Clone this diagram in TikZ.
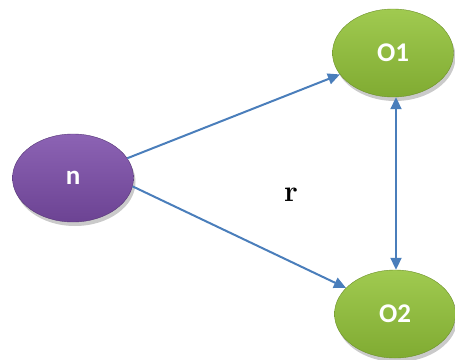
\documentclass[tikz,border=0pt]{standalone}
\usepackage{fontspec}
\setsansfont{Carlito}
\usetikzlibrary{arrows.meta,shadows,shapes.geometric}
\definecolor{linkblue}{HTML}{4A7EBB}
\definecolor{purpletop}{HTML}{8C63B4}
\definecolor{purplebot}{HTML}{6C4393}
\definecolor{greentop}{HTML}{A0CA50}
\definecolor{greenbot}{HTML}{80AB32}
\tikzset{
  x=1pt, y=-1pt,
  blob/.style={ellipse, minimum width=121pt, minimum height=88pt, inner sep=0pt,
    font=\sffamily\bfseries\fontsize{27}{27}\selectfont, text=white,
    drop shadow={shadow xshift=2pt, shadow yshift=-4pt, opacity=0.35, fill=black!60}},
  purpleblob/.style={blob, top color=purpletop, bottom color=purplebot, draw=purplebot!80!black, line width=0.4pt},
  greenblob/.style={blob, top color=greentop, bottom color=greenbot, draw=greenbot!85!black, line width=0.4pt},
  link/.style={draw=linkblue, line width=2pt, -{Triangle[length=12pt,width=11pt]}},
  twolink/.style={draw=linkblue, line width=2pt, {Triangle[length=12pt,width=11pt]}-{Triangle[length=12pt,width=11pt]}}
}
\begin{document}
\begin{tikzpicture}
  \useasboundingbox (0,0) rectangle (455,359);
  \node[purpleblob] (n) at (73,178) {n};
  \node[greenblob] (o1) at (393,53) {O1};
  \node[greenblob] (o2) at (395,314) {O2};
  \node[font=\bfseries\fontsize{30}{30}\selectfont] (r) at (291,195) {r};
  \draw[link] (n.20) -- (o1.202);
  \draw[link] (n.-8) -- (o2.152);
  \draw[twolink] (o1.south) ++(3,0) coordinate (a) (a) -- (a |- o2.north);
\end{tikzpicture}
\end{document}
